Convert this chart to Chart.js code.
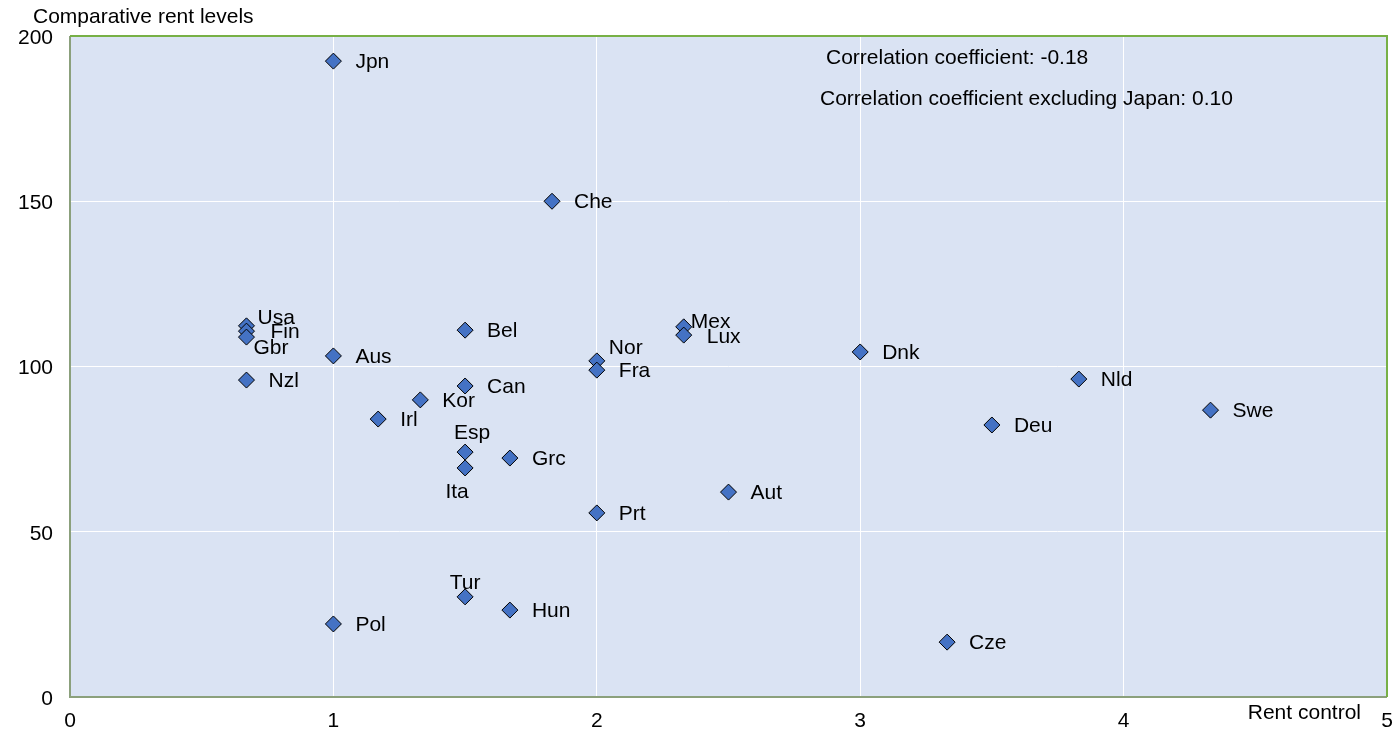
<!DOCTYPE html>
<html><head><meta charset="utf-8">
<script src="https://cdn.jsdelivr.net/npm/chart.js@4/dist/chart.umd.min.js"></script>
<style>html,body{margin:0;padding:0;background:#fff}canvas{display:block}</style>
</head><body>
<canvas id="c" width="1396" height="731"></canvas>
<script>
const countries = ['Jpn','Che','Usa','Fin','Gbr','Nzl','Aus','Bel','Nor','Fra','Mex','Lux','Dnk','Nld','Swe','Deu','Can','Kor','Irl','Esp','Ita','Grc','Aut','Prt','Tur','Hun','Pol','Cze'];
const rentControl = [1.0,1.83,0.67,0.67,0.67,0.67,1.0,1.5,2.0,2.0,2.33,2.33,3.0,3.83,4.33,3.5,1.5,1.33,1.17,1.5,1.5,1.67,2.5,2.0,1.5,1.67,1.0,3.33];
const rentLevels = [192.4,150.0,112.3,110.7,108.9,95.9,103.2,111.0,101.7,98.9,112.0,109.5,104.4,96.2,86.8,82.3,94.1,89.9,84.1,74.1,69.3,72.3,62.0,55.7,30.3,26.3,22.1,16.6];
const xTicks = [0,1,2,3,4,5];
const yTicks = [0,50,100,150,200];
const xTitle = 'Rent control';
const yTitle = 'Comparative rent levels';
const notes = ['Correlation coefficient: -0.18','Correlation coefficient excluding Japan: 0.10'];
// label placement: [dx, dy, align]
const labelPlace = {
  Usa:[11,-8,'left'], Fin:[24,1,'left'], Gbr:[7,11,'left'],
  Mex:[7,-5,'left'], Lux:[23,2,'left'], Nor:[12,-13,'left'],
  Esp:[7,-19,'center'], Ita:[-8,24,'center'], Tur:[0,-14,'center']
};

const FONT = '"Liberation Sans", Arial, sans-serif';
const FS = 21;

const bgPlugin = {
  id:'bg',
  beforeDraw(chart){
    const {ctx, chartArea:a} = chart;
    ctx.save();
    ctx.fillStyle = '#dae3f3';
    ctx.fillRect(a.left, a.top, a.right-a.left, a.bottom-a.top);
    ctx.restore();
  },
  afterDatasetsDraw(chart){
    const {ctx, chartArea:a} = chart;
    ctx.save();
    ctx.lineWidth = 2;
    ctx.strokeStyle = '#8ba07c';
    ctx.beginPath(); ctx.moveTo(a.left, a.top); ctx.lineTo(a.left, a.bottom); ctx.lineTo(a.right, a.bottom); ctx.stroke();
    ctx.strokeStyle = '#77b046';
    ctx.beginPath(); ctx.moveTo(a.left, a.top); ctx.lineTo(a.right, a.top); ctx.lineTo(a.right, a.bottom); ctx.stroke();
    // point labels
    const meta = chart.getDatasetMeta(0);
    ctx.font = FS + 'px ' + FONT;
    ctx.fillStyle = '#000';
    ctx.textBaseline = 'middle';
    meta.data.forEach((pt, i) => {
      const name = countries[i];
      const p = labelPlace[name] || [22, 1, 'left'];
      ctx.textAlign = p[2];
      ctx.fillText(name, pt.x + p[0], pt.y + p[1]);
    });
    // notes
    ctx.textAlign = 'left';
    ctx.fillText(notes[0], 826, 58);
    ctx.fillText(notes[1], 820, 99);
    // axis titles
    ctx.fillText(yTitle, 33, 17);
    ctx.textAlign = 'right';
    ctx.fillText(xTitle, 1361, 713);
    ctx.restore();
  }
};

new Chart(document.getElementById('c'), {
  type:'scatter',
  data:{
    datasets:[{
      data: countries.map((c,i)=>({x:rentControl[i], y:rentLevels[i]})),
      pointStyle:'rectRot', pointRadius:8, pointHoverRadius:8,
      backgroundColor:'#4472c4', borderColor:'#000', borderWidth:1
    }]
  },
  options:{
    responsive:false, animation:false, devicePixelRatio:1,
    layout:{padding:{top:36, right:8, left:0, bottom:0}},
    plugins:{legend:{display:false}, tooltip:{enabled:false}},
    scales:{
      x:{
        type:'linear', min:0, max:5,
        afterBuildTicks(s){ s.ticks = xTicks.map(v=>({value:v})); },
        afterFit(s){ s.height = 34; s.paddingLeft = 0; s.paddingRight = 0; },
        ticks:{color:'#000', font:{family:FONT, size:FS}, padding:12, maxRotation:0},
        grid:{color:'#ffffff', lineWidth:1, drawTicks:false},
        border:{display:false}
      },
      y:{
        type:'linear', min:0, max:200,
        afterBuildTicks(s){ s.ticks = yTicks.map(v=>({value:v})); },
        afterFit(s){ s.width = 70; s.paddingTop = 0; s.paddingBottom = 0; },
        ticks:{color:'#000', font:{family:FONT, size:FS}, padding:17, labelOffset:2},
        grid:{color:'#ffffff', lineWidth:1, drawTicks:false},
        border:{display:false}
      }
    }
  },
  plugins:[bgPlugin]
});
</script>
</body></html>
